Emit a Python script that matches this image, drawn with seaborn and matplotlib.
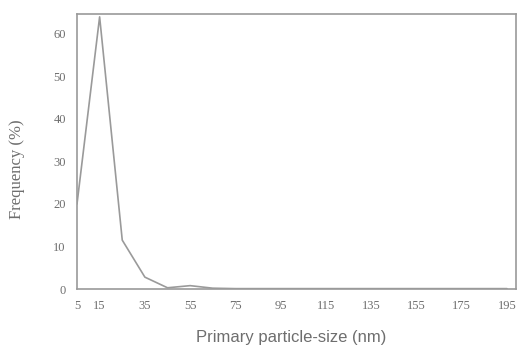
import numpy as np
import pandas as pd
import seaborn as sns
import matplotlib
matplotlib.use("Agg")
import matplotlib.pyplot as plt

# particle-size bins (nm) and frequency (%)
size_nm = [5, 15, 25, 35, 45, 55, 65, 75, 85, 95, 105, 115, 125, 135, 145, 155, 165, 175, 185, 195]
freq_pct = [20, 64, 11.5, 2.8, 0.3, 0.8, 0.2, 0.1, 0.1, 0.1, 0.1, 0.1, 0.1, 0.1, 0.1, 0.1, 0.1, 0.1, 0.1, 0.1]
xtick_vals = [5, 15, 35, 55, 75, 95, 115, 135, 155, 175, 195]
ytick_vals = [0, 10, 20, 30, 40, 50, 60]

df = pd.DataFrame({"size": size_nm, "freq": freq_pct})

sns.set_style("white")
line_col = "#9a9a9a"
text_col = "#6e6e6e"

fig = plt.figure(figsize=(5.22, 3.47), dpi=100)
ax = fig.add_axes([0.1475, 0.167, 0.841, 0.793])
sns.lineplot(data=df, x="size", y="freq", ax=ax, color=line_col, linewidth=1.2)

ax.set_xlim(5, 199)
ax.set_ylim(0, 64.7)
ax.set_xticks(xtick_vals)
ax.set_yticks(ytick_vals)
ax.tick_params(length=0, pad=8, colors=text_col, labelsize=9)
for lab in ax.get_xticklabels() + ax.get_yticklabels():
    lab.set_family("Liberation Serif")

for sp in ax.spines.values():
    sp.set_color(line_col)
    sp.set_linewidth(1.2)

ax.set_xlabel("Primary particle-size (nm)", family="Liberation Sans", fontsize=12,
              color=text_col)
ax.xaxis.set_label_coords(0.487, -0.175)
ax.xaxis.label.set_va("center")
ax.set_ylabel("Frequency (%)", family="Liberation Serif", fontsize=12,
              color=text_col)
ax.yaxis.set_label_coords(-0.137, 0.436)
ax.yaxis.label.set_va("center")

fig.savefig("out.png", dpi=100)
